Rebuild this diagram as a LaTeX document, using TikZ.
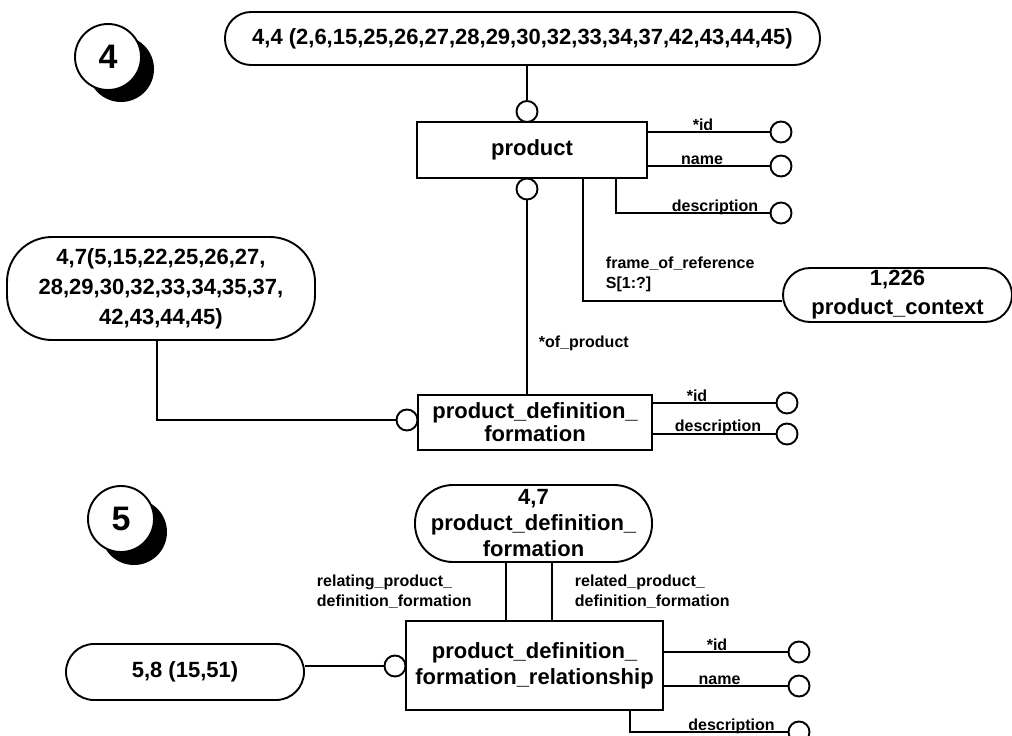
\documentclass[tikz,border=0pt]{standalone}
\usepackage{fontspec}
\setmainfont{Liberation Sans}
\begin{document}
\begin{tikzpicture}[x=1pt,y=-1pt,
  line width=1.9pt,
  entity/.style={draw, rectangle, inner sep=0pt, align=center},
  pill/.style={draw, rectangle, inner sep=0pt, align=center},
  conn/.style={draw, circle, fill=white, minimum size=21pt, inner sep=0pt},
  badge/.style={draw, circle, fill=white, minimum size=66pt, inner sep=0pt,
    font=\fontsize{34}{34}\selectfont\bfseries},
  badgeshadow/.style={circle, fill=black, minimum size=66pt, inner sep=0pt},
  attr/.style={font=\fontsize{16}{20}\selectfont\bfseries, anchor=base, inner sep=0pt},
  rolelabel/.style={font=\fontsize{16}{20}\selectfont\bfseries, inner sep=0pt, align=left},
]
\useasboundingbox (0,0) rectangle (1012,736);

% ---------------- diagram 4 ----------------
\node[badgeshadow] (sh4) at (121,69) {};
\node[badge] (b4) at (108,57) {4};

\node[pill, rounded corners=26pt, minimum width=595pt, minimum height=53pt,
  font=\fontsize{22}{25}\selectfont\bfseries] (p44) at (522.5,38.5)
  {4,4 (2,6,15,25,26,27,28,29,30,32,33,34,37,42,43,44,45)};

\node[entity, minimum width=230pt, minimum height=56pt,
  font=\fontsize{22}{25}\selectfont\bfseries] (prod) at (532,150) {product};

\node[conn] (c1) at (527,111.5) {};
\node[conn] (c2) at (527,189) {};
\draw (c1.north) -- (c1.north |- p44.south);

% attributes of product
\node[conn] (pid) at (781,132) {};
\node[conn] (pname) at (781,166) {};
\node[conn] (pdesc) at (781,213) {};
\draw (prod.east |- pid) -- (pid.west);
\draw (prod.east |- pname) -- (pname.west);
\coordinate (pd) at (616,213);
\draw (pd |- prod.south) -- (pd) -- (pdesc.west);
\node[attr] (lpid) at (703,130) {*id};
\node[attr] (lpname) at (702,164) {name};
\node[attr] (lpdesc) at (715,211) {description};

% product_context reference
\node[pill, rounded corners=27pt, minimum width=229pt, minimum height=54pt,
  font=\fontsize{22}{29}\selectfont\bfseries] (pc) at (897.5,295)
  {1,226\\product\_context};
\coordinate (fr) at (583,301);
\draw (fr |- prod.south) -- (fr) -- (fr -| pc.west);
\node[rolelabel, anchor=north west] (lfr) at (605,256)
  {frame\_of\_reference\\S[1:?]};

% product_definition_formation
\node[pill, rounded corners=45pt, minimum width=308pt, minimum height=103pt,
  font=\fontsize{22}{30}\selectfont\bfseries] (p47a) at (161,288.5)
  {4,7(5,15,22,25,26,27,\\28,29,30,32,33,34,35,37,\\42,43,44,45)};

\node[entity, minimum width=234pt, minimum height=55pt,
  font=\fontsize{22}{23}\selectfont\bfseries] (pdf) at (535,422.5)
  {product\_definition\_\\formation};

\draw (c2.south) -- (c2.south |- pdf.north);
\node[rolelabel, anchor=west] (lop) at (538,343) {*of\_product};

\node[conn] (c3) at (407,420) {};
\coordinate (k1) at (157,420);
\draw (k1 |- p47a.south) -- (k1) -- (c3.west);

\node[conn] (fid) at (787,403) {};
\node[conn] (fdesc) at (787,434) {};
\draw (pdf.east |- fid) -- (fid.west);
\draw (pdf.east |- fdesc) -- (fdesc.west);
\node[attr] (lfid) at (697,401) {*id};
\node[attr] (lfdesc) at (718,431) {description};

% ---------------- diagram 5 ----------------
\node[badgeshadow] (sh5) at (134,532) {};
\node[badge] (b5) at (121,519) {5};

\node[pill, rounded corners=38pt, minimum width=237pt, minimum height=77pt,
  font=\fontsize{22}{26}\selectfont\bfseries] (p47b) at (533.5,523.5)
  {4,7\\product\_definition\_\\formation};

\node[entity, minimum width=257pt, minimum height=89pt,
  font=\fontsize{22}{26}\selectfont\bfseries] (pdfr) at (534.5,665.5)
  {product\_definition\_\\formation\_relationship};

\coordinate (v1) at (506,600);
\coordinate (v2) at (552,600);
\draw (v1 |- p47b.south) -- (v1 |- pdfr.north);
\draw (v2 |- p47b.south) -- (v2 |- pdfr.north);
\node[rolelabel, anchor=north west] (lrel1) at (316,574)
  {relating\_product\_\\definition\_formation};
\node[rolelabel, anchor=north west] (lrel2) at (574,574)
  {related\_product\_\\definition\_formation};

\node[pill, rounded corners=28pt, minimum width=238pt, minimum height=56pt,
  font=\fontsize{22}{25}\selectfont\bfseries] (p58) at (185,672) {5,8 (15,51)};
\node[conn] (c4) at (395,666) {};
\draw (c4.west -| p58.east) -- (c4.west);

\node[conn] (rid) at (799,652) {};
\node[conn] (rname) at (799,686) {};
\node[conn] (rdesc) at (799,732) {};
\draw (pdfr.east |- rid) -- (rid.west);
\draw (pdfr.east |- rname) -- (rname.west);
\coordinate (rd) at (630,732);
\draw (rd |- pdfr.south) -- (rd) -- (rdesc.west);
\node[attr] (lrid) at (717,650) {*id};
\node[attr] (lrname) at (719.5,684) {name};
\node[attr] (lrdesc) at (731.5,730) {description};
\end{tikzpicture}
\end{document}
